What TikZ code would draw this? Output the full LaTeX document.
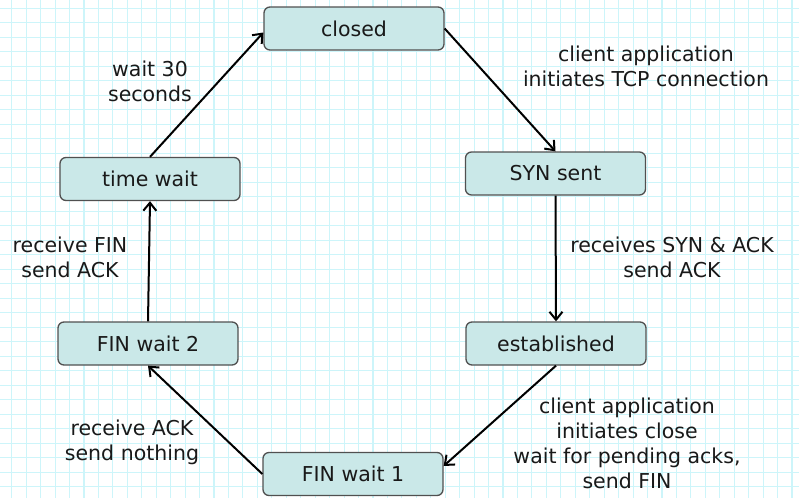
\documentclass[tikz,border=0pt]{standalone}
\usepackage{fontspec}
\setmainfont{DejaVu Sans}
\usetikzlibrary{arrows.meta}
\definecolor{gridc}{RGB}{205,245,250}
\definecolor{nodefill}{RGB}{202,232,232}
\definecolor{nodeline}{RGB}{80,80,80}
\tikzset{
  state/.style={draw=nodeline, fill=nodefill, line width=1.3pt, rounded corners=6pt,
    minimum width=180pt, minimum height=43pt, inner sep=0pt, font=\fontsize{20.5}{24}\selectfont, text=black!90},
  lbl/.style={font=\fontsize{20.5}{25}\selectfont, text=black!90, inner sep=0pt},
  conn/.style={-{Straight Barb[length=8pt,width=13pt,line width=2pt]}, line width=2pt, black}
}
\begin{document}
\begin{tikzpicture}[x=1pt,y=-1pt]
\useasboundingbox (0,0) rectangle (799,498);
\fill[white] (0,0) rectangle (799,498);
\foreach \i in {0,...,55} {
  \draw[gridc, line width=1.1pt] (11.7+\i*14.45,0) -- (11.7+\i*14.45,498);
}
\foreach \j in {0,...,34} {
  \draw[gridc, line width=1.1pt] (0,8.3+\j*14.5) -- (799,8.3+\j*14.5);
}
\node[state] (closed) at (354,28.5) {closed};
\node[state] (syn) at (555.5,173.5) {SYN sent};
\node[state] (tw) at (150,179) {time wait};
\node[state] (fw2) at (148,343.5) {FIN wait 2};
\node[state] (est) at (556,343.5) {established};
\node[state] (fw1) at (353,474) {FIN wait 1};

\draw[conn] (tw.north) -- ([yshift=-4pt]closed.west);
\draw[conn] (closed.east) -- (syn.north);
\draw[conn] (syn.south) -- (est.north);
\draw[conn] (est.south) -- ([yshift=8pt]fw1.east);
\draw[conn] (fw1.west) -- (fw2.south);
\draw[conn] (fw2.north) -- (tw.south);

\node[lbl, align=center] (l1) at (150,81.5) {wait 30\\seconds};
\node[lbl, align=center] (l2) at (646,66.5) {client application\\initiates TCP connection};
\node[lbl, align=center] (l3) at (672,257) {receives SYN \& ACK\\send ACK};
\node[lbl, align=center] (l4) at (627,443) {client application\\initiates close\\wait for pending acks,\\send FIN};
\node[lbl, align=center] (l5) at (132,442) {receive ACK\\send nothing};
\node[lbl, align=center] (l6) at (70,257) {receive FIN\\send ACK};
\end{tikzpicture}
\end{document}
